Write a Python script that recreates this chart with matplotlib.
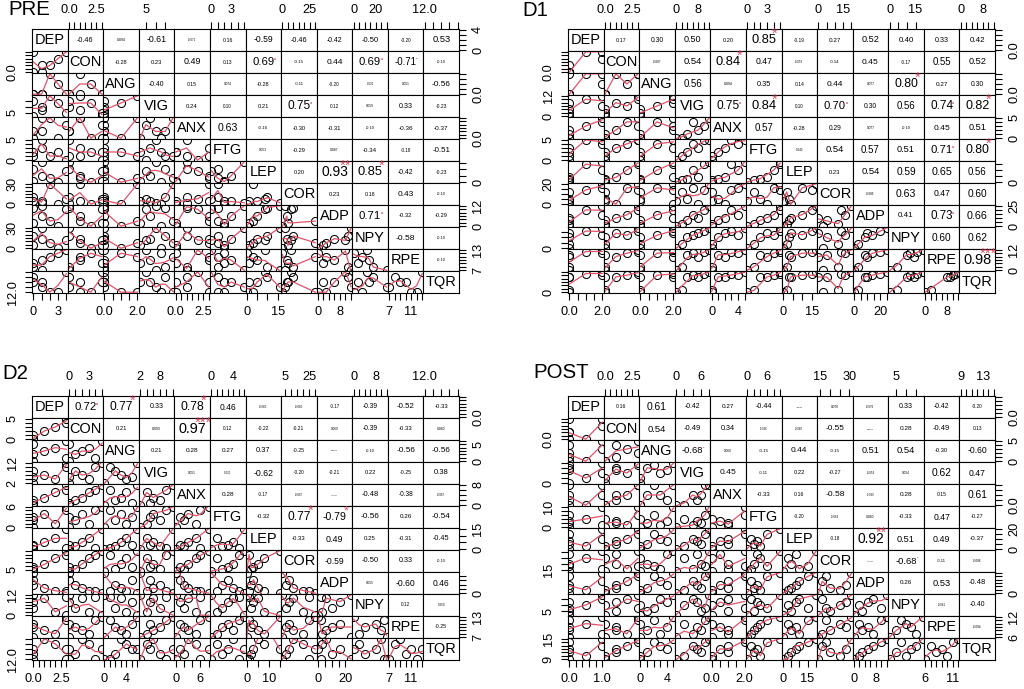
import math
import numpy as np
import matplotlib
matplotlib.use('Agg')
import matplotlib.pyplot as plt

plt.rcParams['font.family'] = ['Liberation Sans', 'DejaVu Sans']

names = ['DEP', 'CON', 'ANG', 'VIG', 'ANX', 'FTG', 'LEP', 'COR', 'ADP', 'NPY', 'RPE', 'TQR']
N_SUBJ = 7

# ---------------- PRE ----------------
pre_values = {
    'DEP': [0, 1, 2, 4, 3, 0, 1],
    'CON': [3, 0, 1, 3, 2, 0, 1],
    'ANG': [0, 0, 2, 0, 1, 0, 0],
    'VIG': [4.4, 6.0, 7.8, 5.0, 6.6, 7.0, 5.4],
    'ANX': [0, 1, 3, 2, 0, 1, 3],
    'FTG': [2, 5, 1, 0, 2, 1, 3],
    'LEP': [1, 16, 3, 9, 0, 10, 5],
    'COR': [5, 2, 30, 8, 0, 10, 4],
    'ADP': [2, 12, 3, 10, 0, 11, 6],
    'NPY': [4, 30, 8, 12, 0, 18, 14],
    'RPE': [9, 7, 11, 13, 12, 8, 10],
    'TQR': [13.0, 12.5, 12.0, 14.0, 12.0, 13.5, 13.0],
}
pre_cor = [
    ["-0.46", "0.094", "-0.61", "-0.071", "0.16", "-0.59", "-0.46", "-0.42", "-0.50", "-0.20", "0.53"],
    ["-0.28", "0.23", "0.49", "0.13", "0.69", "-0.15", "0.44", "0.69", "-0.71", "-0.10"],
    ["-0.40", "0.15", "0.074", "-0.28", "-0.11", "-0.20", "0.036", "0.051", "-0.56"],
    ["0.24", "0.10", "0.21", "0.75", "0.12", "0.059", "0.33", "-0.23"],
    ["0.63", "-0.16", "-0.30", "-0.31", "-0.10", "-0.36", "-0.37"],
    ["0.053", "-0.29", "0.087", "-0.34", "-0.18", "-0.51"],
    ["0.20", "0.93", "0.85", "-0.42", "-0.23"],
    ["0.23", "0.18", "0.43", "-0.10"],
    ["0.71", "-0.32", "-0.29"],
    ["-0.58", "-0.10"],
    ["-0.10"],
]
pre_top = {'CON': ['0.0', '2.5'], 'VIG': ['5'], 'FTG': ['0', '3'], 'COR': ['0', '25'], 'NPY': ['0', '20'], 'TQR': ['12.0']}
pre_bottom = {'DEP': ['0', '3'], 'ANG': ['0.0', '2.0'], 'ANX': ['0.0', '2.5'], 'LEP': ['0', '15'], 'ADP': ['0', '8'], 'RPE': ['7', '11']}
pre_left = {'CON': ['0.0'], 'VIG': ['5'], 'FTG': ['0', '5'], 'COR': ['0', '30'], 'NPY': ['0', '30'], 'TQR': ['12.0']}
pre_right = {'DEP': ['0', '4'], 'ANG': ['0.0'], 'ANX': ['0.0'], 'LEP': ['0'], 'ADP': ['0', '12'], 'RPE': ['7', '13']}

# ---------------- D1 ----------------
d1_values = {
    'DEP': [0, 2, 0, 0, 2, 1, 0],
    'CON': [0, 3, 1, 0, 2, 3, 0],
    'ANG': [0, 2, 2, 0, 1, 2, 0],
    'VIG': [0, 12, 8, 2, 6, 10, 4],
    'ANX': [0, 5, 2, 0, 4, 3, 1],
    'FTG': [0, 5, 3, 1, 4, 5, 2],
    'LEP': [0, 17, 4, 2, 10, 15, 3],
    'COR': [3, 20, 0, 12, 16, 14, 5],
    'ADP': [0, 25, 10, 3, 14, 20, 8],
    'NPY': [0, 19, 14, 4, 12, 16, 10],
    'RPE': [0, 12, 8, 2, 10, 11, 9],
    'TQR': [0, 12, 9, 1, 10, 11, 9],
}
d1_cor = [
    ["0.17", "0.30", "0.50", "0.20", "0.85", "-0.19", "0.27", "0.52", "0.40", "0.33", "0.42"],
    ["-0.087", "0.54", "0.84", "0.47", "-0.059", "-0.14", "0.45", "-0.17", "0.55", "0.52"],
    ["0.56", "0.094", "0.35", "0.14", "0.44", "0.077", "0.80", "0.27", "0.30"],
    ["0.75", "0.84", "0.10", "0.70", "0.30", "0.56", "0.74", "0.82"],
    ["0.57", "-0.28", "0.29", "0.077", "-0.10", "0.45", "0.51"],
    ["0.042", "0.54", "0.57", "0.51", "0.71", "0.80"],
    ["0.23", "0.54", "0.59", "0.65", "0.56"],
    ["-0.086", "0.63", "0.47", "0.60"],
    ["0.41", "0.73", "0.66"],
    ["0.60", "0.62"],
    ["0.98"],
]
d1_top = {'CON': ['0.0', '2.5'], 'VIG': ['0', '8'], 'FTG': ['0', '3'], 'COR': ['0', '15'], 'NPY': ['0', '15'], 'TQR': ['0', '8']}
d1_bottom = {'DEP': ['0.0', '2.0'], 'ANG': ['0.0', '2.0'], 'ANX': ['0', '4'], 'LEP': ['0', '15'], 'ADP': ['0', '20'], 'RPE': ['0', '8']}
d1_left = {'CON': ['0.0'], 'VIG': ['0', '12'], 'FTG': ['0', '5'], 'COR': ['0', '20'], 'NPY': ['0'], 'TQR': ['0']}
d1_right = {'DEP': ['0.0'], 'ANG': ['0.0'], 'ANX': ['0', '5'], 'LEP': ['0'], 'ADP': ['0', '25'], 'RPE': ['0', '12']}

# ---------------- D2 ----------------
d2_values = {
    'DEP': [0, 3, 1, 0, 2, 3, 0],
    'CON': [0, 5, 2, 1, 3, 4, 0],
    'ANG': [0, 6, 3, 2, 4, 1, 5],
    'VIG': [2, 12, 6, 8, 4, 10, 5],
    'ANX': [0, 8, 3, 2, 5, 6, 1],
    'FTG': [0, 6, 4, 2, 1, 5, 3],
    'LEP': [0, 15, 5, 2, 8, 1, 3],
    'COR': [3, 30, 12, 6, 20, 25, 8],
    'ADP': [24, 0, 6, 10, 3, 2, 16],
    'NPY': [12, 0, 10, 4, 2, 11, 8],
    'RPE': [7, 13, 9, 10, 8, 12, 11],
    'TQR': [12.0, 13.0, 14.0, 12.5, 13.5, 12.0, 13.0],
}
d2_cor = [
    ["0.72", "0.77", "0.33", "0.78", "0.46", "-0.080", "-0.080", "-0.17", "-0.39", "-0.52", "-0.33"],
    ["0.21", "0.093", "0.97", "0.12", "-0.22", "-0.21", "0.060", "-0.39", "-0.33", "0.080"],
    ["0.21", "0.28", "0.27", "0.37", "-0.25", "0.0094", "-0.10", "-0.56", "-0.56"],
    ["0.051", "0.030", "-0.62", "-0.20", "-0.21", "0.22", "-0.25", "0.38"],
    ["0.28", "-0.17", "-0.067", "-0.0071", "-0.48", "-0.38", "-0.067"],
    ["-0.32", "0.77", "-0.79", "-0.56", "0.26", "-0.54"],
    ["-0.33", "0.49", "0.25", "-0.31", "-0.45"],
    ["-0.59", "-0.50", "0.33", "-0.10"],
    ["0.055", "-0.60", "0.46"],
    ["0.12", "0.050"],
    ["-0.25"],
]
d2_top = {'CON': ['0', '3'], 'VIG': ['2', '8'], 'FTG': ['0', '4'], 'COR': ['5', '25'], 'NPY': ['0', '8'], 'TQR': ['12.0']}
d2_bottom = {'DEP': ['0.0', '2.5'], 'ANG': ['0', '4'], 'ANX': ['0', '6'], 'LEP': ['0', '10'], 'ADP': ['0', '20'], 'RPE': ['7', '11']}
d2_left = {'CON': ['0', '5'], 'VIG': ['2', '12'], 'FTG': ['0', '6'], 'COR': ['5'], 'NPY': ['0', '12'], 'TQR': ['12.0']}
d2_right = {'DEP': ['0.0'], 'ANG': ['0', '5'], 'ANX': ['0', '8'], 'LEP': ['0', '15'], 'ADP': ['0'], 'RPE': ['7', '13']}

# ---------------- POST ----------------
post_values = {
    'DEP': [0, 1, 0, 0.5, 1, 0, 0],
    'CON': [0, 3, 1, 0, 2, 3, 1],
    'ANG': [0, 5, 1, 0, 3, 2, 4],
    'VIG': [0, 8, 6, 2, 4, 7, 5],
    'ANX': [0, 2, 1, 0, 1, 2, 0.5],
    'FTG': [0, 10, 2, 4, 1, 6, 3],
    'LEP': [0, 20, 5, 3, 10, 15, 8],
    'COR': [14, 31, 20, 25, 16, 18, 28],
    'ADP': [0, 12, 3, 2, 7, 10, 5],
    'NPY': [4.3, 7.7, 5.0, 6.0, 7.0, 5.5, 6.5],
    'RPE': [6, 12, 8, 10, 7, 11, 9],
    'TQR': [9, 15, 11, 10, 13, 14, 12],
}
post_cor = [
    ["0.16", "0.61", "-0.42", "0.27", "-0.44", "-0.024", "0.070", "-0.076", "0.33", "-0.42", "-0.20"],
    ["0.54", "-0.49", "0.34", "-0.036", "-0.060", "-0.55", "0.0061", "0.28", "-0.49", "0.13"],
    ["-0.68", "0.060", "-0.15", "0.44", "-0.15", "0.51", "0.54", "-0.30", "-0.60"],
    ["0.45", "-0.11", "0.22", "-0.27", "-0.054", "0.054", "0.62", "0.47"],
    ["-0.33", "0.16", "-0.58", "-0.039", "0.28", "0.15", "0.61"],
    ["-0.20", "-0.069", "0.080", "-0.33", "0.47", "-0.27"],
    ["-0.18", "0.92", "0.51", "0.49", "-0.37"],
    ["-0.0082", "-0.68", "-0.11", "-0.088"],
    ["0.26", "0.53", "-0.48"],
    ["-0.061", "-0.40"],
    ["-0.094"],
]
post_top = {'CON': ['0.0', '2.5'], 'VIG': ['0', '6'], 'FTG': ['0', '6'], 'COR': ['15', '30'], 'NPY': ['5'], 'TQR': ['9', '13']}
post_bottom = {'DEP': ['0.0', '1.0'], 'ANG': ['0', '4'], 'ANX': ['0.0', '2.0'], 'LEP': ['0', '15'], 'ADP': ['0', '8'], 'RPE': ['6', '11']}
post_left = {'CON': ['0.0'], 'VIG': ['0'], 'FTG': ['0', '10'], 'COR': ['15'], 'NPY': ['5'], 'TQR': ['9', '15']}
post_right = {'DEP': ['0.0'], 'ANG': ['0', '5'], 'ANX': ['0.0'], 'LEP': ['0', '20'], 'ADP': ['0'], 'RPE': ['6', '12']}


W, H = 1024, 689
fig = plt.figure(figsize=(W / 100, H / 100), dpi=100)
renderer = fig.canvas.get_renderer()

GW, GH = 427.0, 264.0
CW, CH = GW / 12, GH / 12
RED = '#DF536B'
TICK_FS = 9.2

_wcache = {}


def text_width(s):
    # width in pixels of s at 10 pt
    if s not in _wcache:
        t = fig.text(0, 0, s, fontsize=10)
        _wcache[s] = t.get_window_extent(renderer).width
        t.remove()
    return _wcache[s]


def usr(v):
    lo, hi = min(v), max(v)
    d = hi - lo
    return lo - 0.04 * d, hi + 0.04 * d


def r_pretty(lo, hi, n=5):
    # R's pretty() as used for axis ticks, ticks kept inside the usr range
    h, h5 = 1.5, 0.5 + 1.5 * 1.5
    cell = (hi - lo) / n
    base = 10 ** math.floor(math.log10(cell))
    unit = base
    if 2 * base - cell < h * (cell - unit):
        unit = 2 * base
        if 5 * base - cell < h5 * (cell - unit):
            unit = 5 * base
            if 10 * base - cell < h * (cell - unit):
                unit = 10 * base
    ns = math.ceil(lo / unit - 1e-10)
    nu = math.floor(hi / unit + 1e-10)
    return [k * unit for k in range(ns, nu + 1)]


def lowess(x, y, f=2 / 3, iters=3):
    o = np.argsort(x, kind='stable')
    x = np.asarray(x, float)[o]
    y = np.asarray(y, float)[o]
    n = len(x)
    ns = max(min(int(f * n + 1e-7), n), 2)
    rng = x[-1] - x[0]
    rw = np.ones(n)
    ys = y.copy()
    idx = np.arange(n)
    for it in range(iters + 1):
        nleft, nright = 0, ns - 1
        for i in range(n):
            if i > 0 and x[i] == x[i - 1]:
                ys[i] = ys[i - 1]
                continue
            while nright < n - 1 and x[i] - x[nleft] > x[nright + 1] - x[i]:
                nleft += 1
                nright += 1
            hh = max(x[i] - x[nleft], x[nright] - x[i])
            r = np.abs(x - x[i])
            inwin = (idx >= nleft) & (r <= 0.999 * hh)
            w = np.zeros(n)
            if hh > 0:
                w[inwin] = np.where(r[inwin] <= 0.001 * hh, 1.0, (1 - (r[inwin] / hh) ** 3) ** 3)
            else:
                w[inwin] = 1.0
            if it > 0:
                w *= rw
            a = w.sum()
            if a <= 0:
                ys[i] = y[i]
                continue
            w /= a
            if hh > 0:
                a = (w * x).sum()
                b = x[i] - a
                c = (w * (x - a) ** 2).sum()
                if math.sqrt(c) > 0.001 * rng:
                    b /= c
                    w = w * (b * (x - a) + 1)
            ys[i] = (w * y).sum()
        if it == iters:
            break
        res = y - ys
        sc = np.abs(res).sum() / n
        ar = np.sort(np.abs(res))
        m1 = n // 2
        cmad = 3 * (ar[m1] + ar[m1 - 1]) if n % 2 == 0 else 6 * ar[m1]
        if cmad < 1e-7 * sc:
            break
        rr = np.abs(res)
        rw = np.where(rr <= 0.001 * cmad, 1.0,
                      np.where(rr <= 0.999 * cmad, (1 - (rr / cmad) ** 2) ** 2, 0.0))
    return x, ys


def p_value(r, n=N_SUBJ):
    df = n - 2
    if abs(r) >= 1:
        return 0.0
    t = abs(r) * math.sqrt(df / (1 - r * r))
    g = np.linspace(0, t, 4001)
    c = math.gamma((df + 1) / 2) / (math.sqrt(df * math.pi) * math.gamma(df / 2))
    pdf = c * (1 + g ** 2 / df) ** (-(df + 1) / 2)
    return max(0.0, 1 - 2 * np.trapezoid(pdf, g))


def signif(p):
    for cut, sym in [(0.001, '***'), (0.01, '**'), (0.05, '*'), (0.1, '.')]:
        if p < cut:
            return sym
    return ''


def set_axis(ax, axis, side, lims, labels):
    ticks = r_pretty(*lims)
    labs = []
    for t in ticks:
        s = [l for l in labels if abs(float(l) - t) < 1e-9]
        labs.append(s[0] if s else '')
    kw = dict(direction='out', length=5, width=0.8, pad=4.5, colors='black')
    if axis == 'x':
        ax.set_xticks(ticks)
        ax.set_xticklabels(labs, fontsize=TICK_FS)
        ax.tick_params(axis='x', bottom=side == 'bottom', labelbottom=side == 'bottom',
                       top=side == 'top', labeltop=side == 'top', **kw)
    else:
        ax.set_yticks(ticks)
        ax.set_yticklabels(labs, fontsize=TICK_FS, rotation=90)
        ax.tick_params(axis='y', left=side == 'left', labelleft=side == 'left',
                       right=side == 'right', labelright=side == 'right', **kw)
        for tk in ax.yaxis.get_major_ticks():
            tk.label1.set_va('center')
            tk.label2.set_va('center')


def draw_panel(title, title_xy, origin, values, cor, top, bottom, left, right):
    x0, y0 = origin
    cols = [np.asarray(values[nm], float) for nm in names]
    lims = [usr(c) for c in cols]
    diag_fs = 10 * 0.9 * CW / max(text_width(nm) for nm in names)
    for i in range(12):
        for j in range(12):
            ax = fig.add_axes([(x0 + j * CW) / W, 1 - (y0 + (i + 1) * CH) / H, CW / W, CH / H])
            ax.set_xlim(lims[j])
            ax.set_ylim(lims[i])
            ax.set_xticks([])
            ax.set_yticks([])
            for sp in ax.spines.values():
                sp.set_linewidth(0.8)
            if i == j:
                ax.text(0.5, 0.5, names[i], transform=ax.transAxes, ha='center', va='center',
                        fontsize=diag_fs)
            elif i < j:
                s = cor[i][j - i - 1]
                r = float(s)
                base_fs = 10 * 0.8 * CW / text_width(s)
                ax.text(0.5, 0.5, s, transform=ax.transAxes, ha='center', va='center',
                        fontsize=base_fs * (abs(r) + 0.3) / 1.3)
                sym = signif(p_value(r))
                if sym:
                    ax.text(0.82, 0.76, sym, transform=ax.transAxes, ha='center', va='center',
                            fontsize=base_fs, color=RED)
            else:
                ax.plot(cols[j], cols[i], 'o', mfc='none', mec='black', ms=5.8, mew=0.75)
                lx, ly = lowess(cols[j], cols[i])
                ax.plot(lx, ly, color=RED, lw=0.9)
            if i == 0 and j % 2 == 1:
                set_axis(ax, 'x', 'top', lims[j], top[names[j]])
            if i == 11 and j % 2 == 0:
                set_axis(ax, 'x', 'bottom', lims[j], bottom[names[j]])
            if j == 0 and i % 2 == 1:
                set_axis(ax, 'y', 'left', lims[i], left[names[i]])
            if j == 11 and i % 2 == 0:
                set_axis(ax, 'y', 'right', lims[i], right[names[i]])
    fig.text(title_xy[0] / W, 1 - title_xy[1] / H, title, fontsize=14.7, ha='left', va='top')


draw_panel('PRE', (8, 0), (32, 29), pre_values, pre_cor, pre_top, pre_bottom, pre_left, pre_right)
draw_panel('D1', (522, 1), (568, 29), d1_values, d1_cor, d1_top, d1_bottom, d1_left, d1_right)
draw_panel('D2', (2, 364), (32, 396), d2_values, d2_cor, d2_top, d2_bottom, d2_left, d2_right)
draw_panel('POST', (533, 363), (568, 396), post_values, post_cor, post_top, post_bottom, post_left, post_right)

fig.savefig('out.png', dpi=100)
